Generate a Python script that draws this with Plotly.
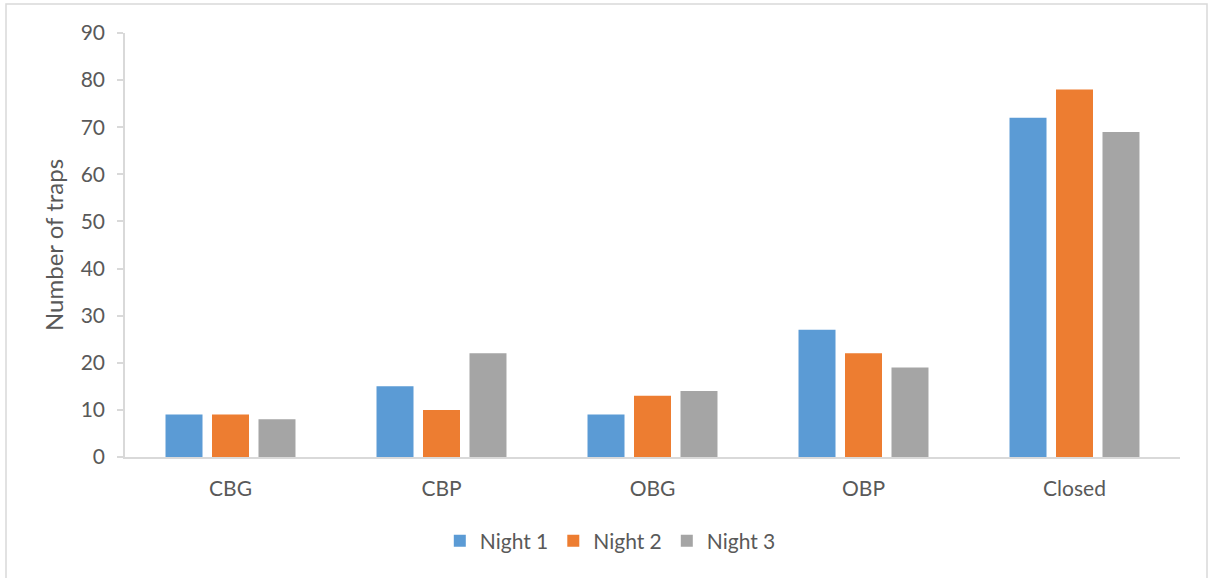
import plotly.graph_objects as go

categories = ["CBG", "CBP", "OBG", "OBP", "Closed"]
night1 = [9, 15, 9, 27, 72]
night2 = [9, 10, 13, 22, 78]
night3 = [8, 22, 14, 19, 69]
series_names = ["Night 1", "Night 2", "Night 3"]
colors = ["#5B9BD5", "#ED7D31", "#A5A5A5"]
y_ticks = [0, 10, 20, 30, 40, 50, 60, 70, 80, 90]

text_color = "#595959"
font_family = "Lato, Open Sans, sans-serif"

fig = go.Figure()
for name, vals, col in zip(series_names, [night1, night2, night3], colors):
    fig.add_trace(go.Bar(
        x=categories, y=vals, name=name,
        marker=dict(color=col, line=dict(width=0)),
    ))

# chart frame
fig.add_shape(
    type="rect", xref="paper", yref="paper",
    x0=-0.1128, x1=1.0256, y0=-0.33, y1=1.0684,
    line=dict(color="#D9D9D9", width=1.5), fillcolor="rgba(0,0,0,0)",
    layer="below",
)

fig.update_layout(
    width=1209, height=578,
    margin=dict(l=125, r=29, t=33, b=121),
    paper_bgcolor="white", plot_bgcolor="white",
    barmode="group", bargap=0.339, bargroupgap=0.204,
    font=dict(family=font_family, size=21, color=text_color),
    showlegend=True,
    legend=dict(
        orientation="h", x=0.46, xanchor="center", y=-0.15, yanchor="top",
        font=dict(size=21, color=text_color), itemwidth=30,
        traceorder="normal",
    ),
    xaxis=dict(
        showline=True, linecolor="#D9D9D9", linewidth=1.5,
        ticks="", showgrid=False, zeroline=False,
        tickfont=dict(size=21, color=text_color),
        ticklabelstandoff=12,
    ),
    yaxis=dict(
        range=[0, 90], tickvals=y_ticks,
        showline=True, linecolor="#D9D9D9", linewidth=1.5,
        ticks="outside", ticklen=6, tickcolor="#D9D9D9", tickwidth=1.5,
        showgrid=False, zeroline=False,
        tickfont=dict(size=21, color=text_color),
        ticklabelstandoff=8,
        title=dict(text="Number of traps", font=dict(size=24, color=text_color), standoff=10),
    ),
)

fig.write_html("out.html")
